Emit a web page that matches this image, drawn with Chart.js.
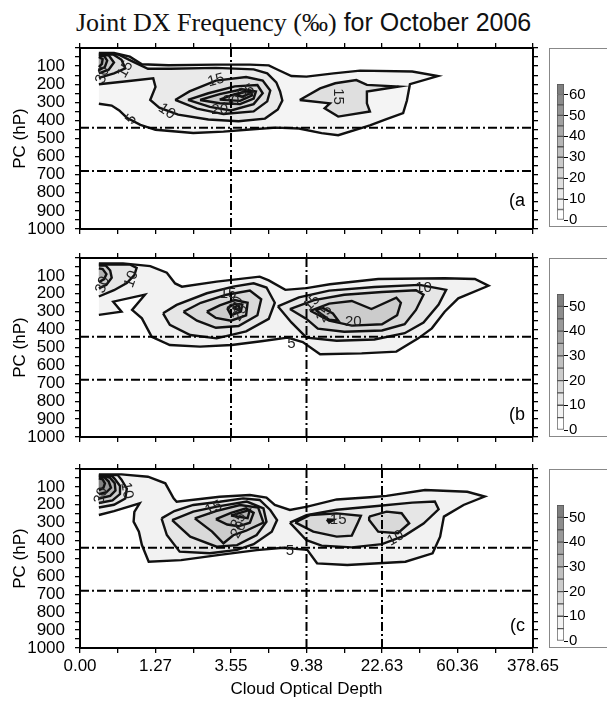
<!DOCTYPE html>
<html>
<head>
<meta charset="utf-8">
<script src="https://cdn.jsdelivr.net/npm/chart.js"></script>
<style>
  body { margin: 0; width: 607px; height: 707px; overflow: hidden; background: #fff; position: relative; }
  canvas.pane { position: absolute; left: 0; }
  .cbox { position: absolute; left: 549px; width: 70px; height: 177px; border: 1px solid #888; background: #fff; }
  .cbox canvas { position: absolute; left: 0; top: 0; }
  #title { position: absolute; left: 76px; top: 8px; white-space: nowrap; line-height: 28px; color: #111; }
  #title .serif { font: 26px "Liberation Serif", "Times New Roman", serif; }
  #title .sans { font: 25px "Liberation Sans", Arial, sans-serif; }
</style>
</head>
<body>
<div id="title"><span class="serif">Joint DX Frequency (‰)</span><span class="sans"> for October 2006</span></div>

<canvas class="pane" id="panelA" width="607" height="236" style="top:0px"></canvas>
<canvas class="pane" id="panelB" width="607" height="236" style="top:210px"></canvas>
<canvas class="pane" id="panelC" width="607" height="282" style="top:425px"></canvas>

<div class="cbox" style="top:48px"><canvas id="barA" width="58" height="177"></canvas></div>
<div class="cbox" style="top:258px"><canvas id="barB" width="58" height="177"></canvas></div>
<div class="cbox" style="top:469px"><canvas id="barC" width="58" height="177"></canvas></div>

<script>
// x axis: optical depth bin edges, evenly spaced
const tauLabels = ['0.00', '1.27', '3.55', '9.38', '22.63', '60.36', '378.65'];
// dash-dot cloud type boundaries
const refPressures = [440, 680];
const refTauA = [2];
const refTauB = [2, 3];
const refTauC = [3, 4];

// colour bar boxes (lower bound of each 5 permil class)
const colorbarA = [0, 5, 10, 15, 20, 25, 30, 35, 40, 45, 50, 55, 60];
const colorbarB = [0, 5, 10, 15, 20, 25, 30, 35, 40, 45, 50];
const colorbarC = [0, 5, 10, 15, 20, 25, 30, 35, 40, 45, 50];

// contours: [level, [[tau index, hPa], ...]]
const contoursA = [
  [5, [[0.25,308],[0.42,318],[0.52,345],[0.62,385],[0.8,425],[1.0,452],[1.5,470],[1.9,462],[2.25,450],[2.6,440],[2.9,445],[3.2,470],[3.42,482],[3.84,428],[4.05,395],[4.28,360],[4.33,290],[4.37,200],[4.74,155],[4.4,130],[3.71,125],[3.36,140],[3.0,158],[2.8,155],[2.62,120],[2.5,96],[2.25,92],[1.8,92],[1.17,95],[0.82,90],[0.66,48],[0.45,27],[0.25,27]]],
  [10, [[0.25,200],[0.62,184],[0.97,168],[1.0,215],[0.93,287],[1.05,330],[1.3,368],[1.7,395],[2.1,405],[2.45,390],[2.62,340],[2.68,290],[2.65,240],[2.6,190],[2.48,140],[2.3,118],[1.8,110],[1.2,115],[0.9,115],[0.7,75],[0.52,38],[0.42,31],[0.25,31]]],
  [15, [[1.26,287],[1.45,240],[1.8,180],[2.2,160],[2.42,180],[2.52,235],[2.48,295],[2.3,350],[1.9,365],[1.55,335],[1.26,287]]],
  [20, [[1.43,287],[1.7,250],[2.05,212],[2.35,205],[2.42,250],[2.3,310],[2.0,345],[1.72,325],[1.43,287]]],
  [25, [[1.59,287],[1.85,255],[2.15,228],[2.33,240],[2.3,280],[2.12,310],[1.85,305],[1.59,287]]],
  [30, [[1.85,285],[2.05,255],[2.25,235],[2.28,262],[2.12,292],[1.85,285]]],
  [35, [[2.05,262],[2.2,238],[2.27,248],[2.15,268],[2.05,262]]],
  [15, [[2.91,287],[3.18,223],[3.38,195],[3.66,177],[3.8,204],[4.22,213],[3.8,241],[3.8,306],[3.84,351],[3.42,379],[3.24,333],[3.31,306],[2.91,287]]],
  [15, [[0.25,165],[0.45,140],[0.6,112],[0.55,65],[0.44,36],[0.25,36]]],
  [25, [[0.25,140],[0.38,120],[0.45,80],[0.38,40],[0.25,40]]],
  [35, [[0.25,122],[0.33,105],[0.36,70],[0.32,44],[0.25,44]]],
  [45, [[0.25,105],[0.29,88],[0.3,62],[0.25,50]]]
];
const contoursB = [
  [5, [[0.25,318],[0.55,300],[0.44,244],[0.86,205],[0.69,290],[0.82,337],[0.95,440],[1.19,486],[1.59,495],[2.01,486],[2.4,465],[2.75,445],[2.95,470],[3.18,538],[3.73,533],[4.19,523],[4.48,449],[4.66,393],[4.83,300],[5.01,225],[5.41,155],[5.23,117],[4.83,113],[3.95,117],[3.31,147],[3.0,168],[2.72,178],[2.5,125],[2.38,104],[1.81,132],[1.35,160],[1.26,142],[1.15,82],[0.93,45],[0.57,30],[0.25,30]]],
  [10, [[0.25,215],[0.45,180],[0.62,140],[0.72,95],[0.75,55],[0.66,36],[0.25,36]]],
  [20, [[0.25,170],[0.35,150],[0.42,110],[0.4,70],[0.34,42],[0.25,42]]],
  [30, [[0.25,135],[0.32,118],[0.35,90],[0.3,62],[0.25,58]]],
  [10, [[1.1,309],[1.28,262],[1.68,197],[2.03,160],[2.3,141],[2.47,165],[2.58,250],[2.5,340],[2.2,410],[1.81,449],[1.46,430],[1.19,374],[1.1,309]]],
  [15, [[1.37,300],[1.6,250],[1.94,205],[2.25,182],[2.4,230],[2.35,320],[2.1,380],[1.8,390],[1.55,350],[1.37,300]]],
  [20, [[1.68,300],[1.85,265],[2.05,235],[2.22,250],[2.2,320],[2.0,350],[1.8,335],[1.68,300]]],
  [25, [[1.95,280],[2.05,255],[2.15,260],[2.13,300],[2.0,320],[1.95,280]]],
  [30, [[2.02,278],[2.1,265],[2.12,292],[2.02,278]]],
  [10, [[2.62,270],[2.9,220],[3.3,182],[3.9,162],[4.5,150],[4.85,178],[4.75,260],[4.55,360],[4.3,420],[3.9,455],[3.4,462],[3.0,445],[2.8,360],[2.62,270]]],
  [15, [[2.78,285],[3.1,235],[3.5,205],[4.0,190],[4.45,180],[4.55,205],[4.45,290],[4.3,370],[4.0,405],[3.5,412],[3.15,395],[3.0,340],[2.78,285]]],
  [20, [[3.05,295],[3.3,255],[3.6,240],[3.86,285],[4.19,222],[4.25,250],[4.2,320],[4.0,370],[3.6,378],[3.3,350],[3.05,295]]],
  [25, [[3.12,290],[3.22,280],[3.35,310],[3.42,350],[3.3,345],[3.12,290]]]
];
const contoursC = [
  [5, [[0.25,257],[0.45,235],[0.79,192],[0.72,240],[0.71,294],[0.78,350],[0.82,425],[0.91,518],[1.34,509],[1.85,480],[2.34,453],[2.69,440],[3.01,452],[3.14,527],[3.54,536],[4.31,518],[4.67,471],[4.77,378],[4.82,266],[5.08,201],[5.36,154],[5.13,127],[4.57,117],[4.06,150],[3.84,158],[3.4,170],[3.01,210],[2.78,229],[2.58,201],[2.47,160],[2.25,145],[1.85,155],[1.28,183],[1.24,164],[1.13,80],[0.9,43],[0.55,30],[0.25,30]]],
  [10, [[0.25,215],[0.45,200],[0.6,165],[0.62,110],[0.55,60],[0.5,34],[0.25,34]]],
  [20, [[0.25,190],[0.43,175],[0.53,140],[0.53,95],[0.46,55],[0.42,38],[0.25,38]]],
  [30, [[0.25,165],[0.4,150],[0.47,120],[0.46,80],[0.4,50],[0.35,42],[0.25,42]]],
  [40, [[0.25,140],[0.35,130],[0.41,105],[0.38,70],[0.32,46],[0.25,46]]],
  [50, [[0.25,118],[0.31,105],[0.33,80],[0.3,58],[0.25,52]]],
  [10, [[1.08,276],[1.25,235],[1.5,201],[1.85,183],[2.16,164],[2.38,173],[2.52,229],[2.61,285],[2.54,350],[2.3,420],[2.08,452],[1.72,471],[1.32,462],[1.15,369],[1.08,276]]],
  [15, [[1.22,285],[1.5,238],[1.81,210],[2.21,182],[2.43,220],[2.47,294],[2.34,369],[2.08,425],[1.81,434],[1.46,378],[1.22,285]]],
  [20, [[1.52,276],[1.8,235],[2.12,201],[2.36,215],[2.43,300],[2.2,345],[2.03,370],[1.9,415],[1.75,350],[1.52,276]]],
  [25, [[1.8,280],[2.0,245],[2.2,220],[2.3,245],[2.25,300],[2.1,320],[1.95,310],[1.8,280]]],
  [30, [[2.0,260],[2.25,228],[2.22,275],[2.0,260]]],
  [10, [[2.78,300],[3.0,258],[3.4,228],[3.9,208],[4.4,188],[4.7,182],[4.75,225],[4.55,305],[4.3,372],[4.0,420],[3.6,438],[3.2,428],[3.0,398],[2.78,300]]],
  [15, [[2.85,298],[3.05,257],[3.4,248],[3.72,262],[3.68,300],[3.6,372],[3.4,378],[3.09,350],[2.85,298]]],
  [20, [[3.27,282],[3.36,284],[3.3,300],[3.27,282]]],
  [15, [[3.83,266],[4.06,238],[4.26,247],[4.36,303],[4.21,359],[3.95,350],[3.83,285],[3.83,266]]]
];

// contour labels: [tau index, hPa, text, angle]
const labelsA = [[0.68,395,'5',-55],[1.15,350,'10',35],[1.8,178,'15',-15],[1.85,342,'20',0],[2.0,292,'30',0],[2.2,242,'35',-30],[3.42,268,'15',90],[0.6,118,'15',-60],[0.3,150,'30',-70]];
const labelsB = [[0.68,118,'10',-70],[0.3,150,'30',-70],[1.96,200,'15',0],[2.07,262,'20',-60],[2.12,305,'25',-60],[2.8,480,'5',0],[3.07,250,'15',-45],[3.24,313,'25',-60],[3.62,358,'20',0],[4.55,165,'10',0]];
const labelsC = [[0.62,120,'10',80],[0.28,150,'30',-70],[1.77,218,'15',-25],[2.1,340,'20',-60],[2.1,290,'25',-60],[2.78,455,'5',0],[3.42,286,'15',0],[4.18,387,'10',-30]];

const SANS = '"Liberation Sans", Arial, sans-serif';
Chart.defaults.font.family = SANS;
Chart.defaults.color = '#000';

function gray(k, n) {
  const v = Math.round(255 - k * 127 / (n - 1));
  return 'rgb(' + v + ',' + v + ',' + v + ')';
}

// pin a scale's size and drop the label overflow padding so the plot box lands where we want it
function pin(prop, size) {
  return s => {
    s[prop] = size;
    s.paddingLeft = s.paddingRight = s.paddingTop = s.paddingBottom = 0;
  };
}

function panelPlugin(labels, tag, tagLift) {
  return {
    id: 'contourPanel',
    beforeDatasetsDraw(chart) {
      const {ctx, chartArea: a} = chart;
      const ds = chart.data.datasets;
      const order = ds.map((d, i) => i).filter(i => ds[i].level)
        .sort((i, j) => ds[i].level - ds[j].level);
      ctx.save();
      ctx.beginPath();
      ctx.rect(a.left, a.top, a.width, a.height);
      ctx.clip();
      order.forEach(i => {
        const pts = chart.getDatasetMeta(i).data;
        ctx.beginPath();
        pts.forEach((p, j) => j ? ctx.lineTo(p.x, p.y) : ctx.moveTo(p.x, p.y));
        ctx.closePath();
        ctx.fillStyle = ds[i].shade;
        ctx.fill();
      });
      ctx.restore();
    },
    afterDatasetsDraw(chart) {
      const {ctx, chartArea: a, scales: {x, y}} = chart;
      ctx.save();
      ctx.fillStyle = '#222';
      ctx.font = '15px ' + SANS;
      ctx.textAlign = 'center';
      ctx.textBaseline = 'middle';
      labels.forEach(([tx, tp, text, ang]) => {
        ctx.save();
        ctx.translate(x.getPixelForValue(tx), y.getPixelForValue(tp));
        ctx.rotate(ang * Math.PI / 180);
        ctx.fillText(text, 0, 0);
        ctx.restore();
      });
      ctx.fillStyle = '#000';
      ctx.font = '18px ' + SANS;
      ctx.textAlign = 'right';
      ctx.fillText(tag, a.right - 8, a.bottom - tagLift);
      ctx.restore();
    }
  };
}

function refLine(points) {
  return {
    data: points, showLine: true, pointRadius: 0, borderColor: '#000',
    borderWidth: 2, borderDash: [9, 3, 2, 3], fill: false, tension: 0
  };
}

function makePanel(id, contours, refTau, labels, steps, tag, tagLift, sizes) {
  const tauMax = tauLabels.length - 1;
  const datasets = [];
  refPressures.forEach(p => datasets.push(refLine([{x: 0, y: p}, {x: tauMax, y: p}])));
  refTau.forEach(t => datasets.push(refLine([{x: t, y: 0}, {x: t, y: 1000}])));
  contours.forEach(([level, pts]) => datasets.push({
    data: pts.map(([x, y]) => ({x, y})),
    level: level,
    shade: gray(level / 5, steps),
    showLine: true, pointRadius: 0, borderColor: '#111', borderWidth: 2.4,
    tension: 0, fill: false
  }));

  const tickGrid = {drawOnChartArea: false, tickLength: 5, color: '#000', lineWidth: 1.3};
  const frame = {color: '#000', width: 2};
  const font17 = {family: SANS, size: 17};

  new Chart(document.getElementById(id), {
    type: 'scatter',
    data: {datasets},
    options: {
      responsive: false,
      animation: false,
      events: [],
      layout: {padding: 0},
      plugins: {legend: {display: false}, tooltip: {enabled: false}},
      scales: {
        x: {
          type: 'linear', position: 'bottom', min: 0, max: tauMax,
          grid: tickGrid, border: frame,
          ticks: {
            stepSize: 0.5, autoSkip: false, maxRotation: 0, padding: 3, font: font17,
            callback: v => (sizes.xLabels && Number.isInteger(v)) ? tauLabels[v] : ''
          },
          title: {display: sizes.xLabels, text: 'Cloud Optical Depth', font: font17, padding: {top: 0, bottom: 7}},
          afterFit: pin('height', sizes.bottom)
        },
        x2: {
          type: 'linear', position: 'top', min: 0, max: tauMax,
          grid: tickGrid, border: frame,
          ticks: {stepSize: 0.5, autoSkip: false, callback: () => ''},
          afterFit: pin('height', sizes.top)
        },
        y: {
          type: 'linear', position: 'left', reverse: true, min: 0, max: 1000,
          grid: tickGrid, border: frame,
          ticks: {
            stepSize: 50, autoSkip: false, padding: 10, font: font17,
            callback: v => (v > 0 && v % 100 === 0) ? String(v) : ''
          },
          title: {display: true, text: 'PC (hP)', font: font17, padding: {top: 10, bottom: 0}},
          afterFit: pin('width', 80)
        },
        y2: {
          type: 'linear', position: 'right', reverse: true, min: 0, max: 1000,
          grid: tickGrid, border: frame,
          ticks: {stepSize: 50, autoSkip: false, callback: () => ''},
          afterFit: pin('width', 74)
        }
      }
    },
    plugins: [panelPlugin(labels, tag, tagLift)]
  });
}

function makeColorbar(id, boxes) {
  const n = boxes.length;
  const step = boxes[1] - boxes[0];
  const top = boxes[n - 1] + step;
  new Chart(document.getElementById(id), {
    type: 'bar',
    data: {
      labels: [''],
      datasets: boxes.map((b, k) => ({
        data: [step], backgroundColor: gray(k, n), borderColor: '#555',
        borderWidth: 1, borderSkipped: false, barPercentage: 1, categoryPercentage: 1
      }))
    },
    options: {
      responsive: false,
      animation: false,
      events: [],
      layout: {padding: {left: 7, top: 35, bottom: 6, right: 0}},
      plugins: {legend: {display: false}, tooltip: {enabled: false}},
      scales: {
        x: {display: false, stacked: true},
        y: {
          stacked: true, position: 'right', min: 0, max: top,
          grid: {drawOnChartArea: false, tickLength: 4, color: '#000'},
          border: {display: false},
          ticks: {
            stepSize: 10, includeBounds: false, padding: 1,
            font: {family: SANS, size: 15},
            callback: v => v % 10 === 0 ? String(v) : ''
          },
          afterFit: pin('width', 44)
        }
      }
    }
  });
}

makePanel('panelA', contoursA, refTauA, labelsA, colorbarA.length, '(a', 28, {top: 48, bottom: 7, xLabels: false});
makePanel('panelB', contoursB, refTauB, labelsB, colorbarB.length, '(b', 22, {top: 48, bottom: 9, xLabels: false});
makePanel('panelC', contoursC, refTauC, labelsC, colorbarC.length, '(c', 22, {top: 44, bottom: 59, xLabels: true});

makeColorbar('barA', colorbarA);
makeColorbar('barB', colorbarB);
makeColorbar('barC', colorbarC);
</script>
</body>
</html>
